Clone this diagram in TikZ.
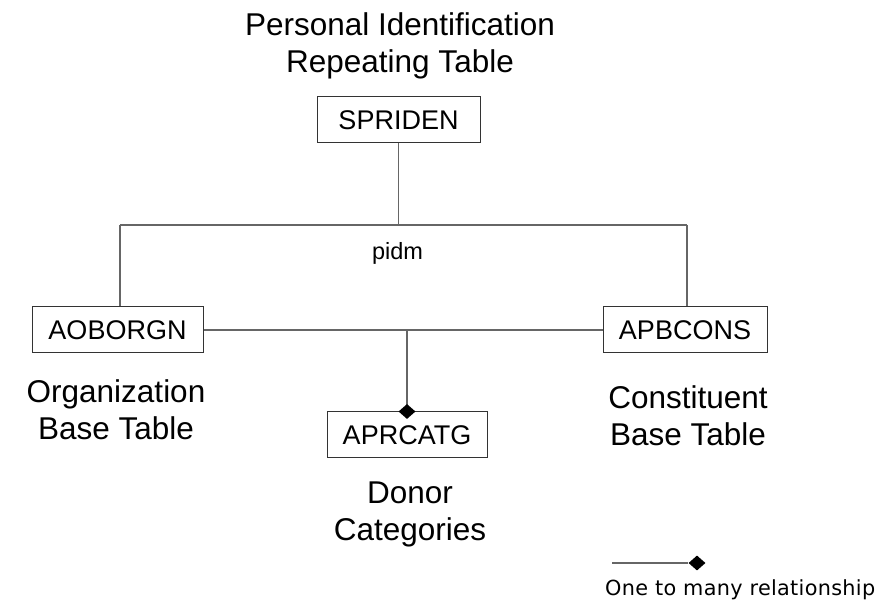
\documentclass[tikz,border=0pt]{standalone}
\usepackage{fontspec}
\setmainfont{Liberation Sans}
\newfontfamily\legendfont[LetterSpace=1.5]{DejaVu Sans}
\usetikzlibrary{shapes.geometric}
\begin{document}
\begin{tikzpicture}[x=1pt,y=-1pt,
  tbl/.style={draw=black!80, line width=1pt, inner sep=0pt, minimum height=46pt,
              font=\fontsize{27}{30}\selectfont},
  caption/.style={align=center, font=\fontsize{31.5}{37}\selectfont},
  link/.style={draw=black!60, line width=1.3pt},
  many/.style={diamond, fill=black, inner sep=0pt, minimum width=17pt, minimum height=15pt}
]
\useasboundingbox (0,0) rectangle (887,609);

% table boxes
\node[tbl, minimum width=163pt] (spriden) at (398.5,120) {SPRIDEN};
\node[tbl, minimum width=171pt] (aoborgn) at (117.5,330) {AOBORGN};
\node[tbl, minimum width=164pt] (apbcons) at (685,330) {APBCONS};
\node[tbl, minimum width=160pt] (aprcatg) at (407,435) {APRCATG};

% captions
\node[caption] (capspriden) at (400,46) {Personal Identification\\Repeating Table};
\node[caption] (capaoborgn) at (116,410) {Organization\\Base Table};
\node[caption] (capapbcons) at (688,416) {Constituent\\Base Table};
\node[caption] (capaprcatg) at (410,514) {Donor\\Categories};
\node[anchor=base, inner sep=0pt, font=\fontsize{23.5}{26}\selectfont] (pidm) at (397.5,260) {pidm};

% pidm bus
\coordinate (busmid) at (spriden.south |- 0,225);
\coordinate (busleft) at (aoborgn.north -| 120,0);
\coordinate (busright) at (apbcons.north -| 687,0);
\draw[link] (spriden.south) -- (busmid);
\draw[link] (busleft |- busmid) -- (busright |- busmid);
\draw[link] (busleft |- busmid) -- (busleft);
\draw[link] (busright |- busmid) -- (busright);

% organization -- constituent, with donor categories below
\draw[link] (aoborgn.east) -- (apbcons.west);
\coordinate (tee) at (aprcatg.north |- aoborgn.east);
\draw[link] (tee) -- (aprcatg.north);
\node[many] (dm) at (aprcatg.north) {};

% legend
\coordinate (legstart) at (612,563);
\node[many] (legdm) at (697,563) {};
\draw[link] (legstart) -- (legdm);
\node[anchor=base west, inner sep=0pt, font=\legendfont\fontsize{20.8}{23}\selectfont] (legtext) at (605,595) {One to many relationship};
\end{tikzpicture}
\end{document}
